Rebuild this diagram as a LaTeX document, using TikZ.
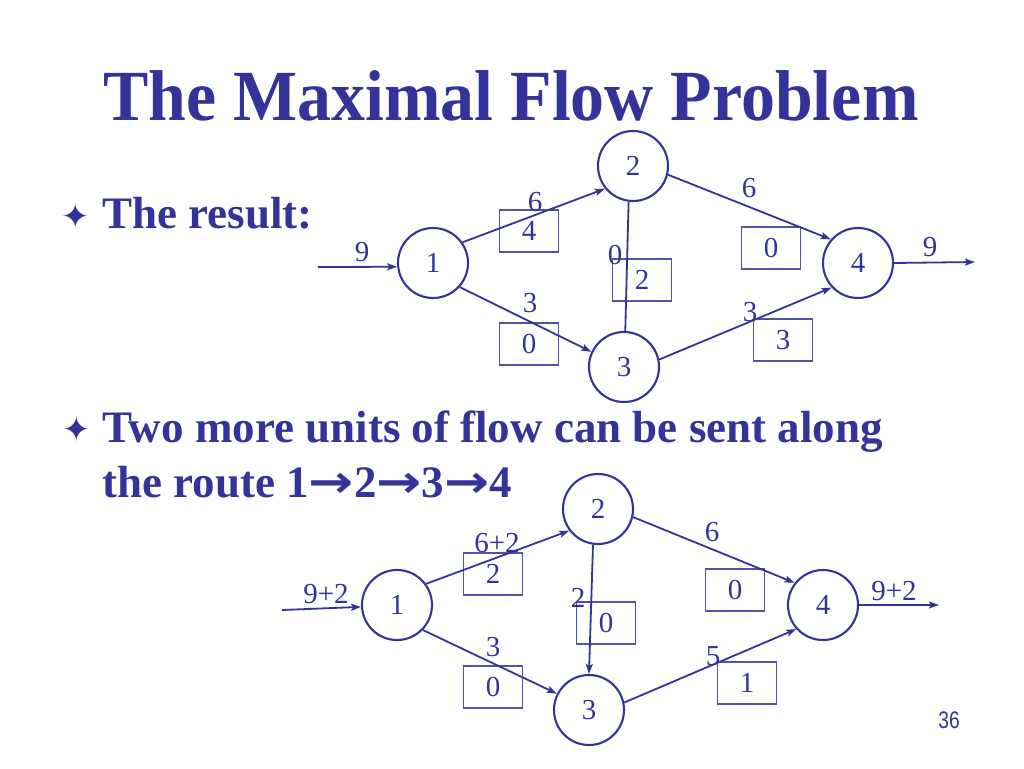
\documentclass[tikz,border=0pt]{standalone}
\usepackage{fontspec}
\setmainfont{Liberation Serif}
\newfontfamily\dejavu{DejaVu Sans}
\newfontfamily\arialish{Liberation Sans}
\usetikzlibrary{arrows.meta}
\definecolor{ink}{RGB}{51,51,153}
\newcommand{\bigarr}{\scalebox{1.2}[1]{\dejavu\bfseries →}}
\tikzset{
  vtx/.style={circle, draw=ink, line width=2.1pt, minimum size=70pt, inner sep=0pt, text=ink, font=\fontsize{29}{29}\selectfont},
  edge/.style={draw=ink, line width=1.8pt, -{Stealth[length=10pt,width=7pt,inset=2pt]}},
  plain/.style={draw=ink, line width=1.8pt},
  lbl/.style={text=ink, font=\fontsize{29}{29}\selectfont, inner sep=0pt},
  flowbox/.style={draw=ink!85, line width=1.1pt, minimum width=59pt, minimum height=42pt, inner sep=0pt, text=ink, font=\fontsize{29}{29}\selectfont},
  bigtxt/.style={text=ink, inner sep=0pt, anchor=base west},
  bul/.style={text=ink, inner sep=0pt, font=\dejavu\fontsize{34}{34}\selectfont}
}
\begin{document}
\begin{tikzpicture}[x=1pt,y=-1pt]
\useasboundingbox (0,0) rectangle (1024,768);
% title
\node[bigtxt, font=\bfseries\fontsize{72}{72}\selectfont] (title) at (103,120) {\scalebox{0.943}[1]{The Maximal Flow Problem}};
% bullets
\node[bul] (b1) at (76,216) {✦};
\node[bigtxt, font=\bfseries\fontsize{45}{45}\selectfont] (t1) at (102,228) {The result:};
\node[bul] (b2) at (77,429) {✦};
\node[bigtxt, font=\bfseries\fontsize{45}{45}\selectfont] (t2) at (102,442) {Two more units of flow can be sent along};
\node[bigtxt, font=\bfseries\fontsize{45}{45}\selectfont] (t3) at (102,497) {the route 1\bigarr2\bigarr3\bigarr4};
% page number
\node[text=ink, inner sep=0pt, font=\arialish\fontsize{24}{24}\selectfont] (pg) at (949,720) {\scalebox{0.8}[1]{36}};

% ---------- top network ----------
\node[vtx] (a1) at (433,263) {1};
\node[vtx] (a2) at (633,166) {2};
\node[vtx] (a3) at (624,367) {3};
\node[vtx] (a4) at (858,263) {4};
\coordinate (ain) at (318,267);
\coordinate (aout) at (975,262);
\node[flowbox] (ab12) at (529,231) {4};
\node[flowbox] (ab13) at (529,344) {0};
\node[flowbox] (ab23) at (642,280) {2};
\node[flowbox] (ab24) at (771,248) {0};
\node[flowbox] (ab34) at (783,340) {3};
\draw[edge] (ain) -- (a1.186);
\draw[edge] (a1.35) -- (a2.219);
\draw[edge] (a1.-42) -- (a3.155);
\draw[plain] (a2.263) -- (a3.88);
\draw[edge] (a2.-14) -- (a4.139);
\draw[edge] (a3.12) -- (a4.223);
\draw[edge] (a4.east) -- (aout);
\node[lbl] (al0) at (362,252) {9};
\node[lbl] (al12) at (535,202) {6};
\node[lbl] (al13) at (530,303) {3};
\node[lbl] (al23) at (615,255) {0};
\node[lbl] (al24) at (749,188) {6};
\node[lbl] (al34) at (750,312) {3};
\node[lbl] (al5) at (930,247) {9};

% ---------- bottom network ----------
\node[vtx] (c1) at (397,605) {1};
\node[vtx] (c2) at (598,509) {2};
\node[vtx] (c3) at (589,710) {3};
\node[vtx] (c4) at (823,605) {4};
\coordinate (cin) at (282,610);
\coordinate (cout) at (939,605);
\node[flowbox] (cb12) at (493,574) {2};
\node[flowbox] (cb13) at (493,687) {0};
\node[flowbox] (cb23) at (606,623) {0};
\node[flowbox] (cb24) at (735,590) {0};
\node[flowbox] (cb34) at (747,683) {1};
\draw[edge] (cin) -- (c1.183);
\draw[edge] (c1.36) -- (c2.217);
\draw[edge] (c1.-44) -- (c3.153);
\draw[edge] (c2.262) -- (c3.90);
\draw[edge] (c2.-13) -- (c4.142);
\draw[edge] (c3.12) -- (c4.222);
\draw[edge] (c4.east) -- (cout);
\node[lbl] (cl0) at (326,594) {9+2};
\node[lbl] (cl12) at (497,543) {6+2};
\node[lbl] (cl13) at (493,647) {3};
\node[lbl] (cl23) at (578,598) {2};
\node[lbl] (cl24) at (712,532) {6};
\node[lbl] (cl34) at (713,656) {5};
\node[lbl] (cl5) at (894,591) {9+2};
\end{tikzpicture}
\end{document}
